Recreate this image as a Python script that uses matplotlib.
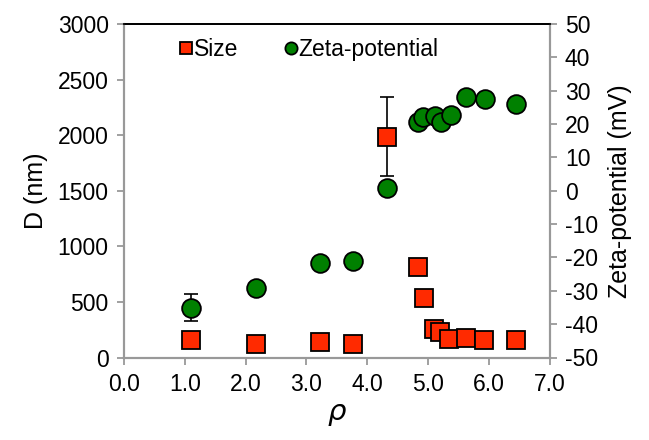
import matplotlib
matplotlib.use('Agg')
import matplotlib.pyplot as plt

plt.rcParams['font.family'] = ['Liberation Sans', 'DejaVu Sans']
plt.rcParams['axes.unicode_minus'] = False

# size data (left axis)
rho = [1.10, 2.17, 3.23, 3.77, 4.32, 4.84, 4.93, 5.10, 5.20, 5.35, 5.63, 5.92, 6.45]
size_nm = [153, 117, 137, 117, 1985, 815, 533, 252, 227, 168, 173, 155, 155]
size_err = [0, 0, 0, 0, 355, 0, 0, 0, 0, 0, 0, 0, 0]

# zeta data (right axis)
rho_zeta = [1.10, 2.17, 3.23, 3.77, 4.32, 4.84, 4.92, 5.11, 5.21, 5.37, 5.63, 5.93, 6.45]
zeta_mv = [-35.1, -29.3, -21.8, -21.0, 0.7, 20.7, 22.1, 22.5, 20.7, 22.7, 28.2, 27.5, 26.1]
zeta_err = [4.0, 0, 0, 0, 0, 0, 0, 0, 0, 0, 0, 0, 0]

gray = '#999999'

fig = plt.figure(figsize=(6.49, 4.40), dpi=100)
ax = fig.add_axes([0.191, 0.1875, 0.656, 0.758])
ax2 = ax.twinx()

ax.errorbar(rho, size_nm, yerr=size_err, fmt='none', ecolor='black',
            elinewidth=1.2, capsize=5, capthick=1.2, zorder=2)
ax.plot(rho, size_nm, 's', color='#ff2a00', markeredgecolor='black',
        markeredgewidth=1.3, markersize=13.5, zorder=3, label='Size')

ax2.errorbar(rho_zeta, zeta_mv, yerr=zeta_err, fmt='none', ecolor='black',
             elinewidth=1.2, capsize=5, capthick=1.2, zorder=2)
ax2.plot(rho_zeta, zeta_mv, 'o', color='#008000', markeredgecolor='black',
         markeredgewidth=1.3, markersize=13.5, zorder=3, label='Zeta-potential')

ax.set_xlim(0, 7)
ax.set_ylim(0, 3000)
ax2.set_ylim(-50, 50)
ax.set_xticks([0, 1, 2, 3, 4, 5, 6, 7])
ax.set_xticklabels(['%.1f' % v for v in range(8)])
ax.set_yticks(range(0, 3001, 500))
ax2.set_yticks(range(-50, 51, 10))

for a in (ax, ax2):
    for s in ('left', 'right', 'bottom'):
        a.spines[s].set_color(gray)
        a.spines[s].set_linewidth(1.5)
    a.spines['top'].set_color('black')
    a.spines['top'].set_linewidth(1.3)
    a.tick_params(colors=gray, labelcolor='black', labelsize=16.5,
                  length=5, width=1.3, pad=6)

ax.set_xlabel(r'$\rho$', fontsize=21, labelpad=3)
ax.set_ylabel('D (nm)', fontsize=18, labelpad=7)
ax2.set_ylabel('Zeta-potential (mV)', fontsize=18, labelpad=7)

h1, l1 = ax.get_legend_handles_labels()
h2, l2 = ax2.get_legend_handles_labels()
leg = ax2.legend(h1 + h2, l1 + l2, loc='upper left', bbox_to_anchor=(0.08, 1.02),
                 ncol=2, frameon=False, fontsize=16.5, handlelength=0.6,
                 handletextpad=0.05, columnspacing=2.0, markerscale=0.65)

fig.savefig('out.png', dpi=100)
